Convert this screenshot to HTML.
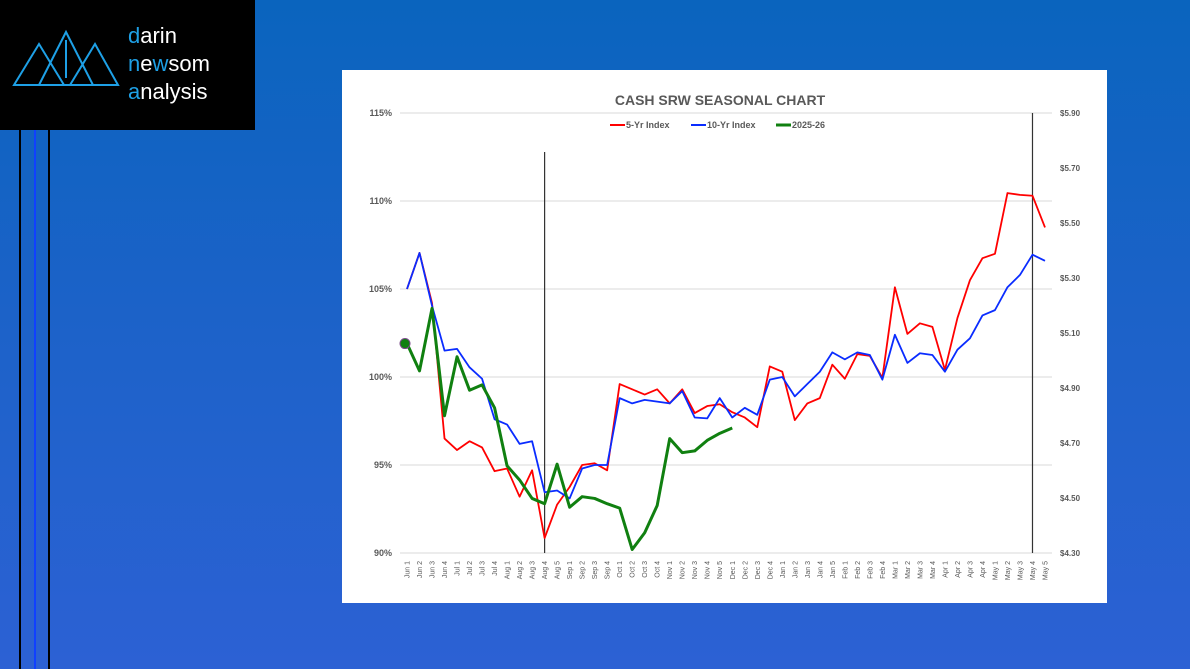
<!DOCTYPE html>
<html><head><meta charset="utf-8"><style>
html,body{margin:0;padding:0}
body{width:1190px;height:669px;overflow:hidden;position:relative;background:linear-gradient(180deg,#0a64be 0%,#1d62c9 50%,#2c61d4 100%);font-family:"Liberation Sans",sans-serif}
</style></head><body>
<div style="position:absolute;left:0;top:0;width:255px;height:130px;background:#000">
<svg width="120" height="80" style="position:absolute;left:10px;top:28px">
<g fill="none" stroke="#1ea0e6" stroke-width="2">
<polygon points="4,57 29,16 54,57"/><polygon points="29,57 56,4 83,57"/><polygon points="60,57 85,16 108,57"/>
<line x1="56" y1="12" x2="56" y2="50"/></g></svg>
<div style="position:absolute;left:128px;top:22px;color:#fff;font-size:22px;line-height:28px">
<div><span style="color:#1ea0e6">d</span>arin</div><div><span style="color:#1ea0e6">n</span>e<span style="color:#1ea0e6">w</span>som</div><div><span style="color:#1ea0e6">a</span>nalysis</div></div>
</div>
<div style="position:absolute;left:19px;top:130px;width:2px;height:539px;background:#000"></div>
<div style="position:absolute;left:34px;top:130px;width:2px;height:539px;background:#1040ff"></div>
<div style="position:absolute;left:48px;top:130px;width:2px;height:539px;background:#000"></div>
<svg id="chart" width="1190" height="669" style="position:absolute;left:0;top:0"></svg>
<script>
const categories=["Jun 1","Jun 2","Jun 3","Jun 4","Jul 1","Jul 2","Jul 3","Jul 4","Aug 1","Aug 2","Aug 3","Aug 4","Aug 5","Sep 1","Sep 2","Sep 3","Sep 4","Oct 1","Oct 2","Oct 3","Oct 4","Nov 1","Nov 2","Nov 3","Nov 4","Nov 5","Dec 1","Dec 2","Dec 3","Dec 4","Jan 1","Jan 2","Jan 3","Jan 4","Jan 5","Feb 1","Feb 2","Feb 3","Feb 4","Mar 1","Mar 2","Mar 3","Mar 4","Apr 1","Apr 2","Apr 3","Apr 4","May 1","May 2","May 3","May 4","May 5"];
const fiveYr=[105.0,107.05,104.2,96.5,95.85,96.35,96.0,94.65,94.8,93.2,94.7,90.85,92.75,93.75,95.0,95.1,94.7,99.6,99.3,99.0,99.3,98.5,99.3,97.95,98.35,98.45,98.0,97.7,97.15,100.6,100.3,97.55,98.5,98.8,100.7,99.9,101.3,101.2,99.95,105.1,102.45,103.05,102.85,100.4,103.35,105.5,106.75,107.0,110.45,110.35,110.3,108.5];
const tenYr=[105.0,107.05,104.05,101.5,101.6,100.55,99.9,97.6,97.3,96.2,96.35,93.45,93.55,93.1,94.8,95.0,95.0,98.8,98.5,98.7,98.6,98.5,99.2,97.7,97.65,98.8,97.7,98.25,97.85,99.85,100.0,98.9,99.6,100.3,101.4,101.0,101.4,101.25,99.85,102.4,100.8,101.35,101.25,100.3,101.55,102.2,103.5,103.8,105.1,105.8,106.95,106.6];
const current=[101.9,100.35,103.9,97.8,101.15,99.25,99.55,98.25,94.95,94.15,93.1,92.8,95.05,92.6,93.2,93.1,92.8,92.55,90.2,91.15,92.7,96.5,95.7,95.8,96.4,96.8,97.1];
const leftTicks=["90%","95%","100%","105%","110%","115%"];
const leftVals=[90,95,100,105,110,115];
const rightTicks=["$4.30","$4.50","$4.70","$4.90","$5.10","$5.30","$5.50","$5.70","$5.90"];
const markers=["Aug 4","May 4"];
const NS="http://www.w3.org/2000/svg";
const svg=document.getElementById('chart');
const x0=407,x1=1045,yTop=113,yBot=553;
const xs=i=>x0+i*(x1-x0)/(categories.length-1);
const ys=v=>yBot-(v-90)/(115-90)*(yBot-yTop);
function el(t,a,txt){const e=document.createElementNS(NS,t);for(const k in a)e.setAttribute(k,a[k]);if(txt!==undefined)e.textContent=txt;svg.appendChild(e);return e;}
let r=el('rect',{x:342,y:70,width:765,height:533,fill:'#fff'});


let t=el('text',{x:720,y:105,'text-anchor':'middle','font-size':14,'font-weight':'bold',fill:'#595959'},'CASH SRW SEASONAL CHART');


leftVals.forEach((v,i)=>{
 let g=el('line',{x1:400,x2:1052,y1:ys(v),y2:ys(v),stroke:'#d9d9d9','stroke-width':1});
 
 
 let l=el('text',{x:392,y:ys(v)+3,'text-anchor':'end','font-size':9,'font-weight':'bold',fill:'#595959'},leftTicks[i]);
 
 
});
rightTicks.forEach((s,i)=>{
 const y=yBot-i*(yBot-yTop)/(rightTicks.length-1);
 let l=el('text',{x:1060,y:y+3,'font-size':8,'font-weight':'bold',fill:'#595959'},s);
 
 
});
categories.forEach((c,i)=>{
 let l=el('text',{x:0,y:0,'font-size':7,fill:'#595959','text-anchor':'end',transform:`translate(${xs(i)+2.5},${yBot+8}) rotate(-90)`},c);
 
 
});
markers.forEach((m,k)=>{
 const i=categories.indexOf(m);
 let l=el('line',{x1:xs(i),x2:xs(i),y1:k==0?152:113,y2:yBot,stroke:'#333','stroke-width':1.2});
 
 
});
function series(arr,col,w,name){
 let p=el('polyline',{points:arr.map((v,i)=>xs(i)+','+ys(v)).join(' '),fill:'none',stroke:col,'stroke-width':w,'stroke-linejoin':'round'});
 
 
}
series(fiveYr,'#ff0000',1.8,'series-5yr-index');
series(tenYr,'#0a2cff',1.8,'series-10yr-index');
series(current,'#108010',3,'series-2025-26');
let d=el('circle',{cx:xs(0)-2,cy:ys(current[0]),r:5,fill:'#108010',stroke:'#7a4a8a','stroke-width':1});


const leg=[["5-Yr Index","#ff0000",610],["10-Yr Index","#0a2cff",691],["2025-26","#108010",776]];
leg.forEach(([n,c,x])=>{
 let ln=el('line',{x1:x,x2:x+15,y1:125,y2:125,stroke:c,'stroke-width':n=="2025-26"?3:2});
 
 
 let lt=el('text',{x:x+16,y:128,'font-size':9,'font-weight':'bold',fill:'#595959'},n);
 
 
});
</script>
</body></html>
